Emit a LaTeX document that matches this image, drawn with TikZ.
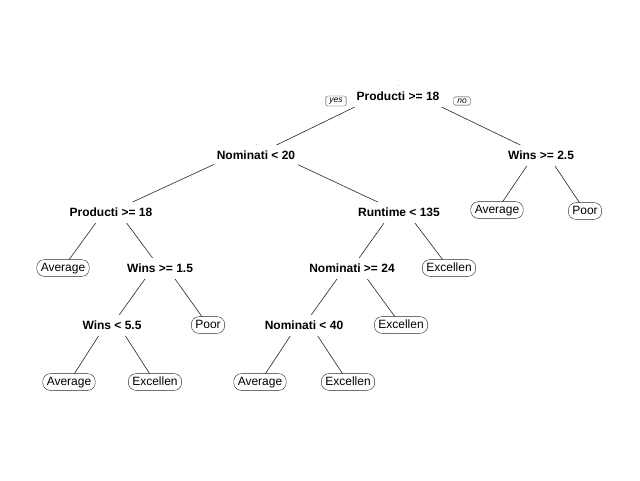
\documentclass[tikz,border=0pt]{standalone}
\usepackage{fontspec}
\setmainfont{Liberation Sans}
\usetikzlibrary{backgrounds}
\tikzset{x=1pt, y=-1pt, % one unit is one pixel of the page, y runs down
split/.style={ % Sets the properties for each split label
font=\bfseries\fontsize{12}{14}\selectfont,
fill=white,
inner xsep=3pt, inner ysep=5.5pt,
text height=9pt, text depth=1pt},
leaf/.style={ % Sets the properties for each leaf
draw=black!85,
fill=white,
rounded corners=7.5pt,
font=\fontsize{12}{14}\selectfont,
inner xsep=4pt, inner ysep=2.6pt,
text height=9pt, text depth=2.5pt},
side/.style={ % yes / no tags at the root
draw=black!80,
fill=white,
rounded corners=1.5pt,
font=\itshape\fontsize{8.5}{10}\selectfont,
inner xsep=3.5pt, inner ysep=1.8pt},
every edge/.style={ % Sets the properties for each branch
draw=black!85,
line width=0.6pt}}

\begin{document}
\begin{tikzpicture}
    \useasboundingbox (0,0) rectangle (640,480);
    \node[split] (n0) at (398,96) {Producti >= 18};
    \node[side] (yes) at (336,101) {yes};
    \node[side] (no) at (462,101) {no};
    \node[split] (n1) at (256,155) {Nominati < 20};
    \node[split] (n2) at (541,155) {Wins >= 2.5};
    \node[split] (n3) at (111,212) {Producti >= 18};
    \node[split] (n4) at (399,212) {Runtime < 135};
    \node[leaf] (l1) at (497,210) {Average};
    \node[leaf] (l2) at (585,211) {Poor};
    \node[leaf] (l3) at (63,268) {Average};
    \node[split] (n5) at (160,268) {Wins >= 1.5};
    \node[split] (n6) at (352,268) {Nominati >= 24};
    \node[leaf] (l4) at (449,268) {Excellen};
    \node[split] (n7) at (112,325) {Wins < 5.5};
    \node[leaf] (l5) at (208,325) {Poor};
    \node[split] (n8) at (304,325) {Nominati < 40};
    \node[leaf] (l6) at (401,325) {Excellen};
    \node[leaf] (l7) at (69,382) {Average};
    \node[leaf] (l8) at (155,382) {Excellen};
    \node[leaf] (l9) at (260,382) {Average};
    \node[leaf] (l10) at (348,382) {Excellen};
    \begin{scope}[on background layer]
    \draw ([yshift=10pt]n0.center) edge (n1.center);
    \draw ([yshift=10pt]n0.center) edge (n2.center);
    \draw ([yshift=10pt]n1.center) edge (n3.center);
    \draw ([yshift=10pt]n1.center) edge (n4.center);
    \draw ([yshift=10pt]n2.center) edge (l1.center);
    \draw ([yshift=10pt]n2.center) edge (l2.center);
    \draw ([yshift=10pt]n3.center) edge (l3.center);
    \draw ([yshift=10pt]n3.center) edge (n5.center);
    \draw ([yshift=10pt]n4.center) edge (n6.center);
    \draw ([yshift=10pt]n4.center) edge (l4.center);
    \draw ([yshift=10pt]n5.center) edge (n7.center);
    \draw ([yshift=10pt]n5.center) edge (l5.center);
    \draw ([yshift=10pt]n6.center) edge (n8.center);
    \draw ([yshift=10pt]n6.center) edge (l6.center);
    \draw ([yshift=10pt]n7.center) edge (l7.center);
    \draw ([yshift=10pt]n7.center) edge (l8.center);
    \draw ([yshift=10pt]n8.center) edge (l9.center);
    \draw ([yshift=10pt]n8.center) edge (l10.center);
    \end{scope}
  \end{tikzpicture}
\end{document}
